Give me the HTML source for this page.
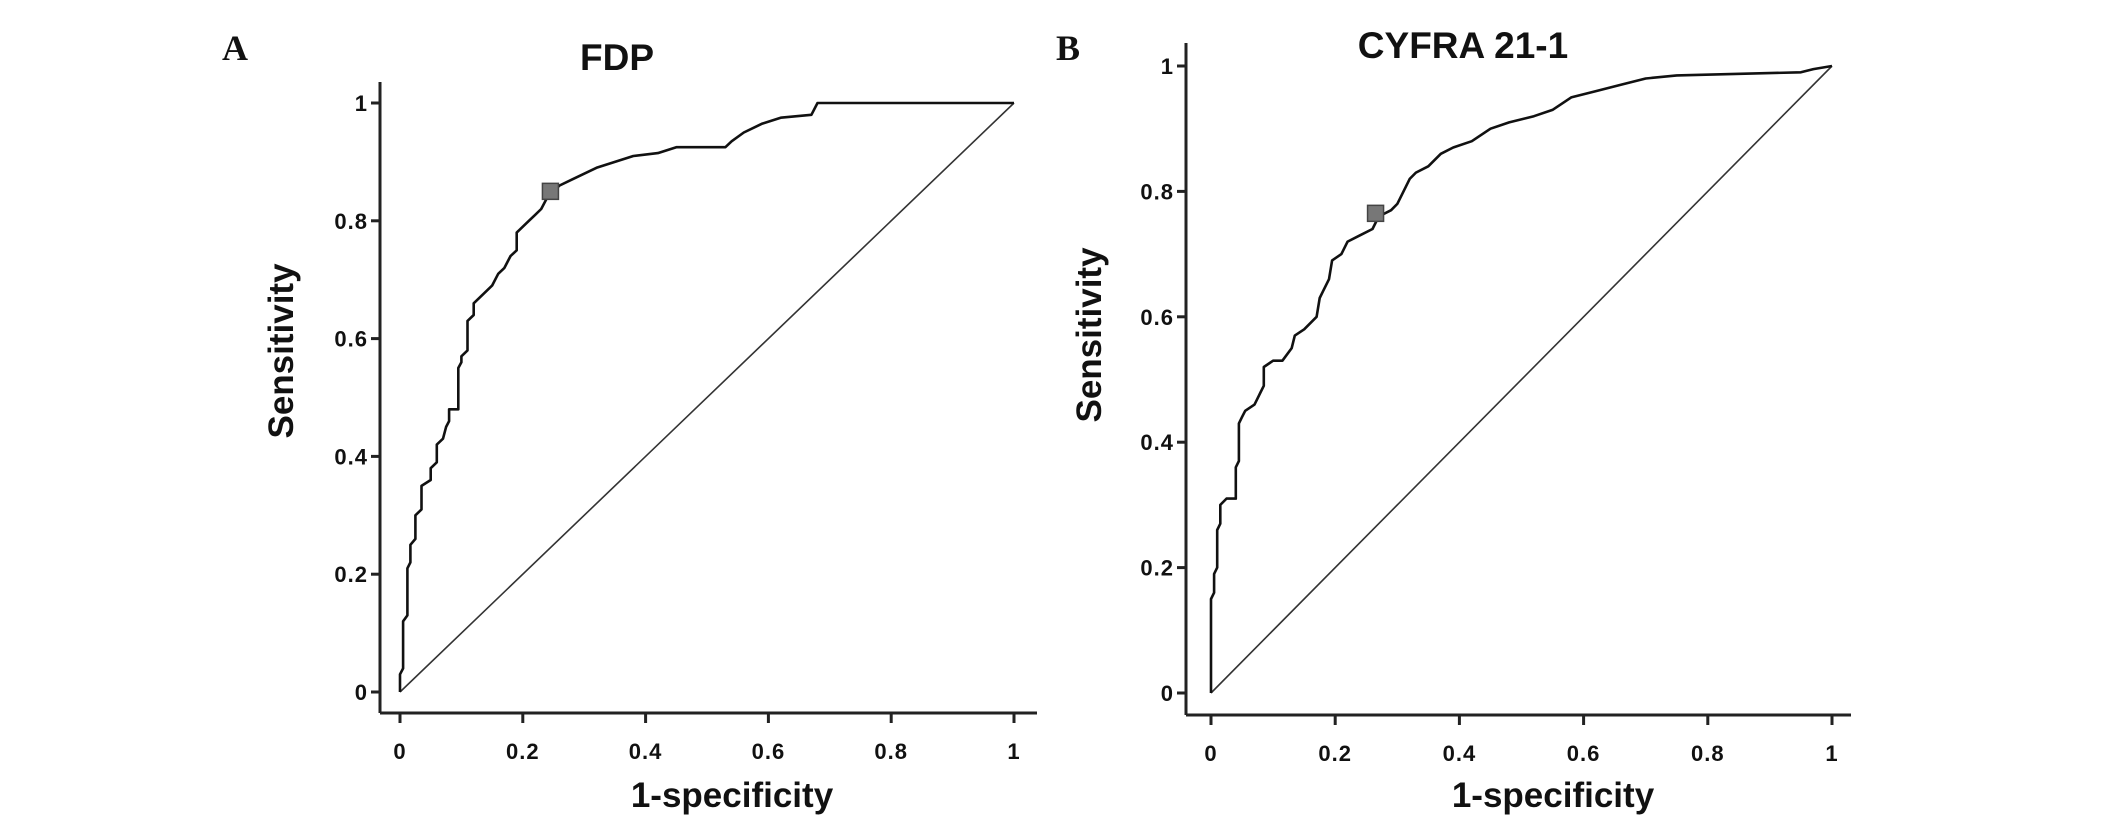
<!DOCTYPE html>
<html><head><meta charset="utf-8"><style>
html,body{margin:0;padding:0;background:#fff;}
svg{display:block;}
text{font-family:"Liberation Sans",Arial,sans-serif;fill:#111;}
.tick{font-size:22px;font-weight:bold;letter-spacing:1px;}
.title{font-size:37px;font-weight:bold;}
.axt{font-size:35px;font-weight:bold;}
.plab{font-family:"Liberation Serif",serif;font-size:36px;font-weight:bold;}
</style></head><body>
<svg id="fig" width="2126" height="828" viewBox="0 0 2126 828"></svg>
<script>
const ticks = [0, 0.2, 0.4, 0.6, 0.8, 1];
const tickLabels = ["0", "0.2", "0.4", "0.6", "0.8", "1"];
const fdpFpr = [0,0,0.005,0.005,0.012,0.012,0.017,0.017,0.025,0.025,0.035,0.035,0.05,0.05,0.06,0.06,0.07,0.075,0.08,0.08,0.095,0.095,0.1,0.1,0.11,0.11,0.12,0.12,0.13,0.15,0.16,0.17,0.18,0.19,0.19,0.2,0.21,0.22,0.23,0.24,0.25,0.26,0.28,0.3,0.32,0.35,0.38,0.42,0.45,0.53,0.54,0.56,0.59,0.62,0.67,0.68,1];
const fdpTpr = [0,0.03,0.04,0.12,0.13,0.21,0.22,0.25,0.26,0.30,0.31,0.35,0.36,0.38,0.39,0.42,0.43,0.45,0.46,0.48,0.48,0.55,0.56,0.57,0.58,0.63,0.64,0.66,0.67,0.69,0.71,0.72,0.74,0.75,0.78,0.79,0.80,0.81,0.82,0.84,0.85,0.86,0.87,0.88,0.89,0.90,0.91,0.915,0.925,0.925,0.935,0.95,0.965,0.975,0.98,1,1];
const cyfFpr = [0,0,0.005,0.005,0.01,0.01,0.015,0.015,0.025,0.04,0.04,0.045,0.045,0.05,0.055,0.07,0.075,0.08,0.085,0.085,0.1,0.115,0.13,0.135,0.15,0.17,0.175,0.18,0.19,0.195,0.21,0.22,0.24,0.26,0.27,0.29,0.3,0.31,0.32,0.33,0.35,0.37,0.39,0.42,0.45,0.48,0.52,0.55,0.58,0.62,0.66,0.7,0.75,0.95,0.97,1];
const cyfTpr = [0,0.15,0.16,0.19,0.2,0.26,0.27,0.30,0.31,0.31,0.36,0.37,0.43,0.44,0.45,0.46,0.47,0.48,0.49,0.52,0.53,0.53,0.55,0.57,0.58,0.6,0.63,0.64,0.66,0.69,0.7,0.72,0.73,0.74,0.76,0.77,0.78,0.80,0.82,0.83,0.84,0.86,0.87,0.88,0.9,0.91,0.92,0.93,0.95,0.96,0.97,0.98,0.985,0.99,0.995,1];
const cutFdp = [0.245, 0.85];
const cutCyf = [0.265, 0.765];

const NS = "http://www.w3.org/2000/svg";
const svg = document.getElementById('fig');
function mk(tag, attrs, parent){
  const e = document.createElementNS(NS, tag);
  for (const k in attrs) e.setAttribute(k, attrs[k]);
  (parent||svg).appendChild(e);
  return e;
}
function panel(cfg){
  const g = mk('g', {});
  
  
  const sx = v => cfg.x0 + v*(cfg.x1-cfg.x0);
  const sy = v => cfg.y0 - v*(cfg.y0-cfg.y1);
  const ya = mk('line', {x1:cfg.ax, y1:cfg.atop, x2:cfg.ax, y2:cfg.ab, stroke:'#222','stroke-width':3}, g);
  
  
  const xa = mk('line', {x1:cfg.ax, y1:cfg.ab, x2:cfg.aright, y2:cfg.ab, stroke:'#222','stroke-width':3}, g);
  
  
  ticks.forEach((t,i)=>{
    mk('line', {x1:cfg.ax-9, y1:sy(t), x2:cfg.ax, y2:sy(t), stroke:'#222','stroke-width':3}, g);
    const yl = mk('text', {x:cfg.ax-12, y:sy(t)+8, 'text-anchor':'end', class:'tick'}, g);
    yl.textContent = tickLabels[i];
    
    
    mk('line', {x1:sx(t), y1:cfg.ab, x2:sx(t), y2:cfg.ab+10, stroke:'#222','stroke-width':3}, g);
    const xl = mk('text', {x:sx(t), y:cfg.ab+46, 'text-anchor':'middle', class:'tick'}, g);
    xl.textContent = tickLabels[i];
    
    
  });
  const d = mk('line', {x1:sx(0), y1:sy(0), x2:sx(1), y2:sy(1), stroke:'#333','stroke-width':1.6}, g);
  
  
  let p = '';
  cfg.fx.forEach((v,i)=>{ p += (i?'L':'M') + sx(v).toFixed(1) + ' ' + sy(cfg.ty[i]).toFixed(1); });
  const c = mk('path', {d:p, fill:'none', stroke:'#111','stroke-width':2.6,'stroke-linejoin':'round'}, g);
  
  
  const m = mk('rect', {x:sx(cfg.cut[0])-8, y:sy(cfg.cut[1])-8, width:16, height:16, fill:'#777', stroke:'#444','stroke-width':1.5}, g);
  
  
  const t = mk('text', {x:cfg.tx, y:cfg.ty0, 'text-anchor':'middle', class:'title'}, g);
  t.textContent = cfg.title;
  
  
  const yt = mk('text', {x:0, y:0, 'text-anchor':'middle', class:'axt', transform:`translate(${cfg.ytx},${cfg.yty}) rotate(-90)`}, g);
  yt.textContent = 'Sensitivity';
  
  
  const xt = mk('text', {x:cfg.xtx, y:807, 'text-anchor':'middle', class:'axt'}, g);
  xt.textContent = '1-specificity';
  
  
  const pl = mk('text', {x:cfg.plx, y:60, class:'plab'}, g);
  pl.textContent = cfg.label;
  
  
}
panel({name:'panel-a-fdp', x0:400, x1:1014, y0:692, y1:103, ax:380, atop:82, ab:713, aright:1037,
  fx:fdpFpr, ty:fdpTpr, cut:cutFdp, title:'FDP', tx:617, ty0:70, ytx:293, yty:351, xtx:732, plx:222, label:'A'});
panel({name:'panel-b-cyfra', x0:1211, x1:1832, y0:693, y1:66, ax:1186, atop:43, ab:715, aright:1851,
  fx:cyfFpr, ty:cyfTpr, cut:cutCyf, title:'CYFRA 21-1', tx:1463, ty0:58, ytx:1101, yty:335, xtx:1553, plx:1056, label:'B'});
</script>
</body></html>
